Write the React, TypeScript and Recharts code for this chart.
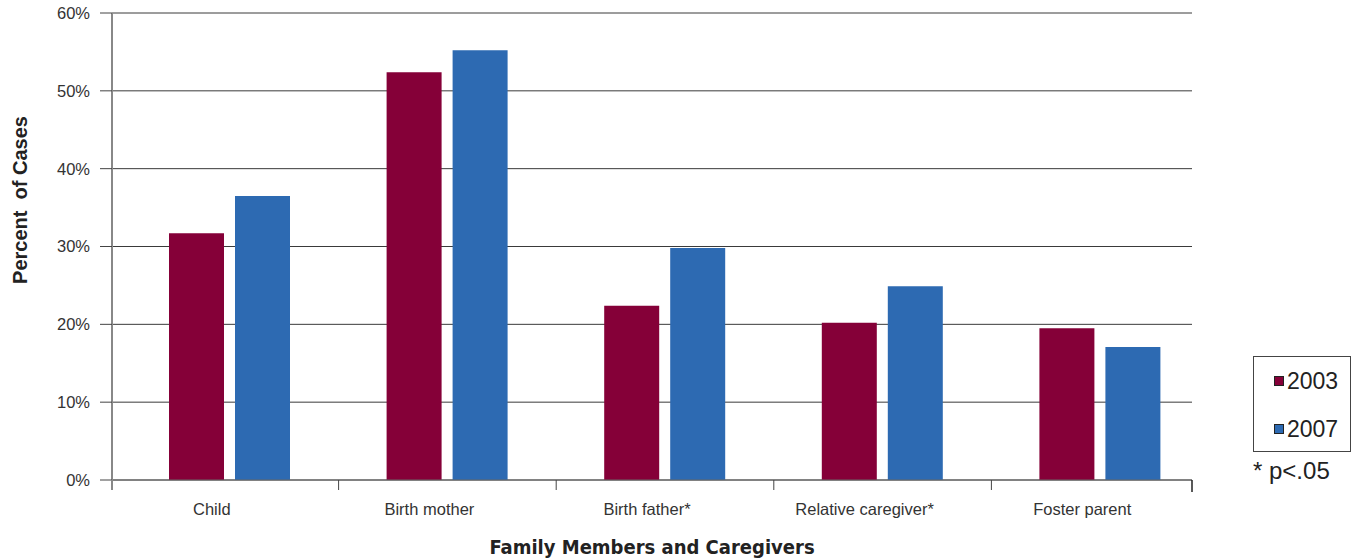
import React from "react"
import { BarChart, Bar, XAxis, YAxis, CartesianGrid } from "recharts"

const categories = ["Child", "Birth mother", "Birth father*", "Relative caregiver*", "Foster parent"]
const values2003 = [31.7, 52.4, 22.4, 20.2, 19.5]
const values2007 = [36.5, 55.2, 29.8, 24.9, 17.1]
const yTicks = [0, 10, 20, 30, 40, 50, 60]

const series = [
  { key: "y2003", name: "2003", color: "#850038" },
  { key: "y2007", name: "2007", color: "#2d6ab2" },
]

const data = categories.map((c, i) => ({ name: c, y2003: values2003[i], y2007: values2007[i] }))

const FONT = "'Liberation Sans', Arial, sans-serif"
const W = 1354
const H = 558
const MARGIN = { top: 13, right: 162, bottom: 0, left: 52 }
const Y_W = 60
const PAD = { left: 9, right: -17 }
const PLOT_W = W - MARGIN.left - MARGIN.right - Y_W
const BAND = (PLOT_W - PAD.left - PAD.right) / categories.length

// tick label + boundary tick marks (the original puts ticks between categories)
function CategoryTick(props: any) {
  const { x, y, payload, index } = props
  const half = BAND / 2
  return (
    <g>
      {index === 0 && <line x1={x - half - PAD.left} x2={x - half - PAD.left} y1={y} y2={y + 10} stroke="#888" strokeWidth={2} />}
      {index < categories.length - 1 && <line x1={x + half} x2={x + half} y1={y} y2={y + 10} stroke="#444" />}
      {index === categories.length - 1 && (
        <line x1={x + half + PAD.right} x2={x + half + PAD.right} y1={y} y2={y + 12} stroke="#222" strokeWidth={1.5} />
      )}
      <text x={x - 18} y={y + 35} textAnchor="middle" fontSize={16.5} fill="#333" fontFamily={FONT}>
        {payload.value}
      </text>
    </g>
  )
}

function YTitle() {
  return (
    <text
      x={27}
      y={200}
      transform="rotate(-90, 27, 200)"
      textAnchor="middle"
      fontSize={20}
      fontWeight={700}
      fill="#222"
      fontFamily={FONT}
      style={{ whiteSpace: "pre" }}
    >
      {"Percent\u00a0\u00a0of Cases"}
    </text>
  )
}

function LegendBox() {
  return (
    <div style={{ position: "absolute", left: 1253, top: 356, fontFamily: FONT, color: "#222" }}>
      <div style={{ width: 98, height: 96, border: "1px solid #444", boxSizing: "border-box", paddingTop: 11 }}>
        {series.map((s) => (
          <div key={s.key} style={{ display: "flex", alignItems: "center", height: 26, marginBottom: 22, paddingLeft: 20 }}>
            <span style={{ width: 8, height: 8, background: s.color, border: "1px solid #222", marginRight: 3 }} />
            <span style={{ fontSize: 23 }}>{s.name}</span>
          </div>
        ))}
      </div>
      <div style={{ fontSize: 24, marginTop: 5 }}>* p&lt;.05</div>
    </div>
  )
}

export default function App() {
  return (
    <div style={{ position: "absolute", left: 0, top: 0, width: W, height: H, background: "#fff" }}>
      <BarChart width={W} height={H} data={data} margin={MARGIN} barCategoryGap={48} barGap={11}>
        <CartesianGrid vertical={false} stroke="#3a3a3a" />
        <XAxis
          dataKey="name"
          padding={PAD}
          height={78}
          axisLine={{ stroke: "#666" }}
          tickLine={false}
          tickSize={0}
          tickMargin={0}
          tick={<CategoryTick />}
          interval={0}
          label={{
            value: "Family Members and Caregivers",
            position: "insideBottom",
            offset: 4,
            fontSize: 20,
            fontWeight: 700,
            fill: "#222",
            fontFamily: "'DejaVu Sans Condensed', 'Liberation Sans Narrow', sans-serif",
          }}
        />
        <YAxis
          domain={[0, 60]}
          ticks={yTicks}
          width={Y_W}
          tickFormatter={(v: number) => `${v}%`}
          axisLine={{ stroke: "#888", strokeWidth: 2 }}
          tickLine={{ stroke: "#444" }}
          tickSize={12}
          tickMargin={10}
          tick={{ fontSize: 16.5, fill: "#333", fontFamily: FONT }}
          label={<YTitle />}
        />
        <YAxis
          yAxisId="r"
          orientation="right"
          width={0}
          tick={false}
          tickLine={false}
          axisLine={{ stroke: "#222", strokeWidth: 1.5 }}
        />
        {series.map((s) => (
          <Bar key={s.key} dataKey={s.key} name={s.name} fill={s.color} isAnimationActive={false} />
        ))}
      </BarChart>
      <LegendBox />
    </div>
  )
}
